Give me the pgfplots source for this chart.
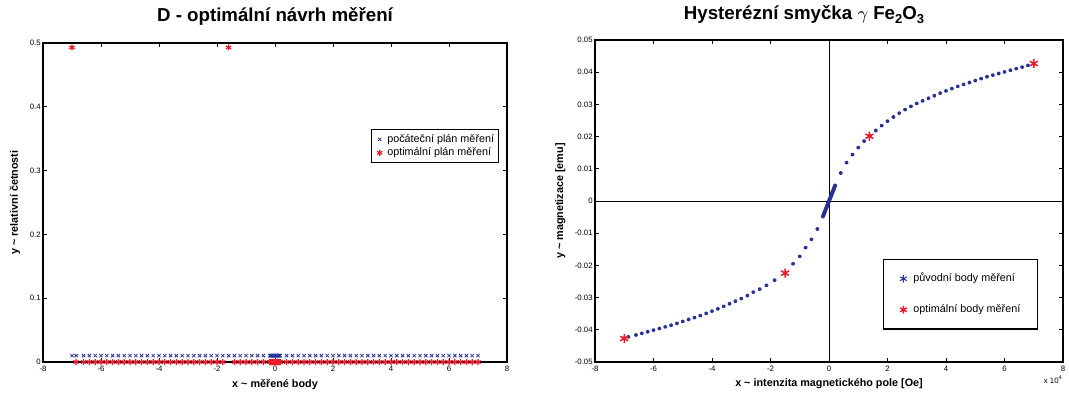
\documentclass[border=0pt]{standalone}
\usepackage{fontspec}
\setmainfont{Liberation Sans}
\usepackage{pgfplots}
\usepackage{pgfplotstable}
\pgfplotsset{compat=1.18}
\definecolor{mblue}{RGB}{40,50,150}
\definecolor{mred}{RGB}{237,28,45}

\pgfplotstableread{
x b r
-7 0.01 0.493
-6.86 0.01 0
-6.6 0.01 0
-6.4 0.01 0
-6.2 0.01 0
-6 0.01 0
-5.8 0.01 0
-5.6 0.01 0
-5.4 0.01 0
-5.2 0.01 0
-5 0.01 0
-4.8 0.01 0
-4.6 0.01 0
-4.4 0.01 0
-4.2 0.01 0
-4 0.01 0
-3.8 0.01 0
-3.6 0.01 0
-3.4 0.01 0
-3.2 0.01 0
-3 0.01 0
-2.8 0.01 0
-2.6 0.01 0
-2.4 0.01 0
-2.2 0.01 0
-2 0.01 0
-1.8 0.01 0
-1.6 0.01 0.493
-1.4 0.01 0
-1.2 0.01 0
-1 0.01 0
-0.8 0.01 0
-0.6 0.01 0
-0.4 0.01 0
-0.18 0.01 0
-0.16 0.01 0
-0.14 0.01 0
-0.12 0.01 0
-0.1 0.01 0
-0.08 0.01 0
-0.06 0.01 0
-0.04 0.01 0
-0.02 0.01 0
0 0.01 0
0.02 0.01 0
0.04 0.01 0
0.06 0.01 0
0.08 0.01 0
0.1 0.01 0
0.12 0.01 0
0.14 0.01 0
0.16 0.01 0
0.18 0.01 0
0.4 0.01 0
0.6 0.01 0
0.8 0.01 0
1 0.01 0
1.2 0.01 0
1.4 0.01 0
1.6 0.01 0
1.8 0.01 0
2 0.01 0
2.2 0.01 0
2.4 0.01 0
2.6 0.01 0
2.8 0.01 0
3 0.01 0
3.2 0.01 0
3.4 0.01 0
3.6 0.01 0
3.8 0.01 0
4 0.01 0
4.2 0.01 0
4.4 0.01 0
4.6 0.01 0
4.8 0.01 0
5 0.01 0
5.2 0.01 0
5.4 0.01 0
5.6 0.01 0
5.8 0.01 0
6 0.01 0
6.2 0.01 0
6.4 0.01 0
6.6 0.01 0
6.8 0.01 0
7 0.01 0
}\leftdata

\pgfplotstableread{
x y
-70000 -0.0426
-68600 -0.0422
-66000 -0.0416
-64000 -0.0411
-62000 -0.0406
-60000 -0.0401
-58000 -0.0396
-56000 -0.0391
-54000 -0.0386
-52000 -0.0380
-50000 -0.0374
-48000 -0.0368
-46000 -0.0362
-44000 -0.0356
-42000 -0.0349
-40000 -0.0342
-38000 -0.0335
-36000 -0.0327
-34000 -0.0319
-32000 -0.0311
-30000 -0.0303
-27900 -0.0294
-25900 -0.0283
-23700 -0.0274
-21400 -0.0262
-18600 -0.0246
-15000 -0.0224
-12300 -0.0195
-10000 -0.0172
-8000 -0.0145
-6000 -0.0119
-4000 -0.0087
-2100 -0.00483
-2000 -0.00460
-1900 -0.00437
-1800 -0.00414
-1700 -0.00391
-1600 -0.00368
-1500 -0.00345
-1400 -0.00322
-1300 -0.00299
-1200 -0.00276
-1100 -0.00253
-1000 -0.00230
-900 -0.00207
-800 -0.00184
-700 -0.00161
-600 -0.00138
-500 -0.00115
-400 -0.00092
-300 -0.00069
-200 -0.00046
-100 -0.00023
0 0
100 0.00023
200 0.00046
300 0.00069
400 0.00092
500 0.00115
600 0.00138
700 0.00161
800 0.00184
900 0.00207
1000 0.00230
1100 0.00253
1200 0.00276
1300 0.00299
1400 0.00322
1500 0.00345
1600 0.00368
1700 0.00391
1800 0.00414
1900 0.00437
2000 0.00460
2100 0.00483
4000 0.0087
6000 0.0119
8000 0.0144
10000 0.0166
12000 0.0186
14000 0.0203
16000 0.0219
18000 0.0234
20000 0.0248
22000 0.0261
24000 0.0273
26000 0.0284
28000 0.0294
30000 0.0303
32000 0.0311
34000 0.0319
36000 0.0327
38000 0.0335
40000 0.0342
42000 0.0349
44000 0.0356
46000 0.0362
48000 0.0368
50000 0.0374
52000 0.0380
54000 0.0386
56000 0.0391
58000 0.0396
60000 0.0401
62000 0.0406
64000 0.0411
66000 0.0416
68000 0.0421
70000 0.0426
}\rightblue

\pgfplotstableread{
x y
-70000 -0.0427
-15000 -0.0224
13800 0.0201
70000 0.0427
}\rightred

\pgfplotsset{
  mstyle/.style={
    scale only axis,
    anchor=south west,
    axis line style={line width=0.65pt, black},
    every tick/.style={line width=0.4pt, black},
    major tick length=1.9pt,
    tick align=inside,
    tick pos=both,
    scaled x ticks=false,
    scaled y ticks=false,
    xticklabel style={font=\fontsize{3.9}{4.5}\selectfont, inner sep=0.6pt, yshift=-1.2pt},
    yticklabel style={font=\fontsize{3.9}{4.5}\selectfont, inner sep=0.6pt, xshift=-0.4pt},
    every axis title/.style={at={(axis description cs:0.5,1)}, anchor=base, font=\bfseries\fontsize{9.35}{11}\selectfont},
    xlabel style={at={(axis description cs:0.5,0)}, anchor=base, font=\bfseries\fontsize{5.4}{6.5}\selectfont},
    ylabel style={anchor=base, font=\bfseries\fontsize{5.4}{6.5}\selectfont},
    legend cell align=left,
  }
}

\begin{document}
\begin{tikzpicture}
\useasboundingbox (0,0) rectangle (534.5pt,196pt);

\begin{axis}[mstyle,
  at={(21.5pt,15pt)}, width=232pt, height=159.5pt,
  xmin=-8, xmax=8, ymin=0, ymax=0.5,
  xtick={-8,-6,-4,-2,0,2,4,6,8},
  xticklabels={-8,-6,-4,-2,0,2,4,6,8},
  ytick={0,0.1,0.2,0.3,0.4,0.5},
  yticklabels={0,0.1,0.2,0.3,0.4,0.5},
  title={D - optimální návrh měření},
  title style={yshift=10.6pt},
  xlabel={x \textasciitilde{} měřené body},
  xlabel style={yshift=-12.8pt},
  ylabel={y \textasciitilde{} relativní četnosti},
  ylabel style={at={(axis description cs:-0.054,0.5)}},
  legend style={at={(axis description cs:0.707,0.73)}, anchor=north west,
    draw=black, line width=0.6pt, fill=white,
    font=\fontsize{5.4}{6.5}\selectfont,
    inner xsep=1.5pt, inner ysep=1.5pt, row sep=0pt, column sep=0.5pt,
    nodes={inner sep=0.8pt, text height=3.9pt, text depth=1.2pt}},
]
\addplot[only marks, mark=x, mark size=1.15pt, mblue, line width=0.4pt,
  legend image code/.code={\path[draw=none, fill=none] (0pt,-1pt) rectangle (5pt,1pt);
    \draw[mblue, line width=0.4pt, mark=x, mark size=1.15pt] plot coordinates {(2.5pt,0pt)};}]
  table[x=x, y=b] {\leftdata};
\addlegendentry{počáteční plán měření}
\addplot[only marks, mark=asterisk, mark size=1.5pt, mred, line width=0.6pt,
  legend image code/.code={\path[draw=none, fill=none] (0pt,-1pt) rectangle (5pt,1pt);
    \draw[mred, line width=0.6pt, mark=asterisk, mark size=1.5pt] plot coordinates {(2.5pt,0pt)};}]
  table[x=x, y=r] {\leftdata};
\addlegendentry{optimální plán měření}
\end{axis}

\begin{axis}[mstyle,
  at={(297.5pt,15pt)}, width=234pt, height=161pt,
  xmin=-80000, xmax=80000, ymin=-0.05, ymax=0.05,
  xtick={-80000,-60000,-40000,-20000,0,20000,40000,60000,80000},
  xticklabels={-8,-6,-4,-2,0,2,4,6,8},
  ytick={-0.05,-0.04,-0.03,-0.02,-0.01,0,0.01,0.02,0.03,0.04,0.05},
  yticklabels={-0.05,-0.04,-0.03,-0.02,-0.01,0,0.01,0.02,0.03,0.04,0.05},
  title={Hysterézní smyčka $\gamma$ Fe\raisebox{-2.2pt}{\fontsize{6.5}{7}\selectfont 2}O\raisebox{-2.2pt}{\fontsize{6.5}{7}\selectfont 3}},
  title style={yshift=10.3pt, xshift=-12.5pt},
  xlabel={x \textasciitilde{} intenzita magnetického pole [Oe]},
  xlabel style={yshift=-12.2pt},
  ylabel={y \textasciitilde{} magnetizace [emu]},
  ylabel style={at={(axis description cs:-0.068,0.5)}},
  legend style={at={(axis description cs:0.615,0.32)}, anchor=north west,
    draw=black, line width=0.6pt, fill=white,
    font=\fontsize{5.4}{6.5}\selectfont,
    inner xsep=7.5pt, inner ysep=6pt, row sep=8.3pt, column sep=1.5pt,
    nodes={inner sep=1pt, text height=4pt, text depth=1.2pt}},
  after end axis/.code={
    \node[anchor=north east, inner sep=0pt, font=\fontsize{3.9}{4.5}\selectfont]
      at (rel axis cs:1,0) [yshift=-6.5pt] {x 10\textsuperscript{4}};
  },
]
\draw[black, line width=0.5pt] (axis cs:0,-0.05) -- (axis cs:0,0.05);
\draw[black, line width=0.5pt] (axis cs:-80000,0) -- (axis cs:80000,0);
\addplot[only marks, mark=asterisk, mark size=0.9pt, mblue, line width=0.7pt,
  legend image code/.code={\path[draw=none, fill=none] (0pt,-1pt) rectangle (5pt,1pt);
    \draw[mblue, line width=0.5pt, mark=asterisk, mark size=1.9pt] plot coordinates {(2.5pt,0pt)};}]
  table[x=x, y=y] {\rightblue};
\addlegendentry{původní body měření}
\addplot[only marks, mark=asterisk, mark size=2.3pt, mred, line width=0.75pt,
  legend image code/.code={\path[draw=none, fill=none] (0pt,-1pt) rectangle (5pt,1pt);
    \draw[mred, line width=0.7pt, mark=asterisk, mark size=1.9pt] plot coordinates {(2.5pt,0pt)};}]
  table[x=x, y=y] {\rightred};
\addlegendentry{optimální body měření}
\end{axis}
\end{tikzpicture}
\end{document}
